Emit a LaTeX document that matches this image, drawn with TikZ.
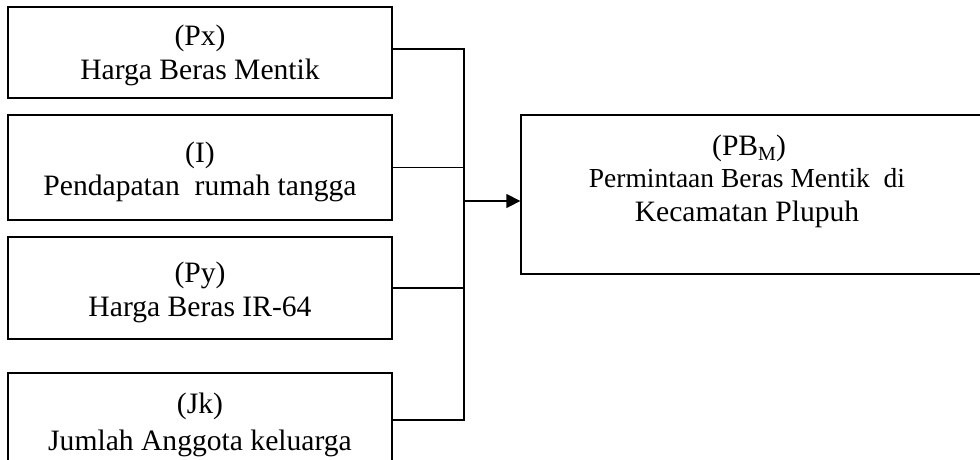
\documentclass[tikz,border=0pt]{standalone}
\usepackage{fontspec}
\setmainfont{Liberation Serif}
\usetikzlibrary{arrows.meta}
\begin{document}
\begin{tikzpicture}[x=1pt,y=-1pt,
  box/.style={draw, line width=1.3pt, inner sep=0pt},
  lbl/.style={anchor=base, inner sep=0pt, font=\fontsize{29.6}{34}\selectfont},
  lblsmall/.style={anchor=base, inner sep=0pt, font=\fontsize{27.5}{33}\selectfont},
  conn/.style={line width=1.3pt}]
\useasboundingbox (0,0) rectangle (980,459);
\clip (0,0) rectangle (980,459);
% boxes
\node[box, minimum width=384pt, minimum height=91pt]  (b1) at (200,52.5) {};
\node[box, minimum width=384pt, minimum height=105pt] (b2) at (200,167.5) {};
\node[box, minimum width=384pt, minimum height=102pt] (b3) at (200,288) {};
\node[box, minimum width=384pt, minimum height=94pt]  (b4) at (200,420) {};
\node[box, minimum width=469pt, minimum height=159pt] (pb) at (755.5,194.5) {};
% labels
\node[lbl] (t1a) at (200,45) {(Px)};
\node[lbl] (t1b) at (200,79) {Harga Beras Mentik};
\node[lbl] (t2a) at (200,162) {(I)};
\node[lbl] (t2b) at (200,195) {Pendapatan~ rumah tangga};
\node[lbl] (t3a) at (200,282) {(Py)};
\node[lbl] (t3b) at (200,316) {Harga Beras IR-64};
\node[lbl] (t4a) at (200,413) {(Jk)};
\node[lbl] (t4b) at (200,450) {Jumlah Anggota keluarga};
\node[lbl] (tra) at (749,155) {(PB\raisebox{-0.18em}{\fontsize{20}{20}\selectfont M})};
\node[lblsmall] (trb) at (747,187) {Permintaan Beras Mentik~ di};
\node[lbl] (trc) at (747,221) {Kecamatan Plupuh};
% connectors
\coordinate (j) at (464,201);
\draw[conn] ([yshift=3.5pt]b1.east) -| (j);
\draw[conn] (b2.east) -| (j);
\draw[conn] (b3.east) -| (j);
\draw[conn] (b4.east) -| (j);
\draw[conn, -{Triangle[length=14pt,width=14pt]}] (j) -- (j -| pb.west);
\end{tikzpicture}
\end{document}
